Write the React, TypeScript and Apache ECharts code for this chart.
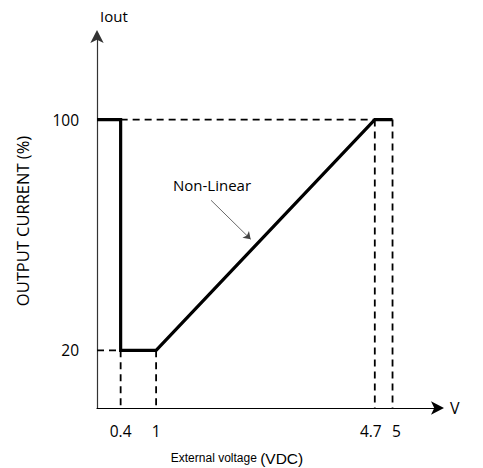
import React, { useEffect, useRef } from "react";
import * as echarts from "echarts";

// Main output-current curve (external voltage V, output current %)
const curveX = [0, 0.4, 0.4, 1, 4.7, 5];
const curveY = [100, 100, 20, 20, 100, 100];

// Tick labels
const xTicks = [0.4, 1, 4.7, 5];
const yTicks = [20, 100];

// Axis extents (arrow tips)
const xMax = 5.82;
const yMax = 130;

// Annotation arrow (data coords)
const noteFrom = [1.93, 72];
const noteTo = [2.6, 58.5];

const FONT = "'Open Sans', 'DejaVu Sans', sans-serif";

export default function App() {
  const ref = useRef<HTMLDivElement>(null);

  useEffect(() => {
    document.body.style.margin = "0";
    if (!ref.current) return;
    const chart = echarts.init(ref.current, undefined, { renderer: "svg" });

    const curve = curveX.map((x, i) => [x, curveY[i]]);
    const lowY = yTicks[0];
    const highY = yTicks[1];
    const guides: number[][][] = [
      [[xTicks[0], highY], [xTicks[2], highY]],
      [[0, lowY], [xTicks[0], lowY]],
      ...xTicks.map((x) => {
        const idx = curveX.lastIndexOf(x);
        const y = x === xTicks[0] ? lowY : curveY[idx];
        return [[x, y], [x, 0]];
      }),
    ];

    const guideSeries = guides.map((seg) => ({
      type: "line",
      data: seg,
      symbol: "none",
      silent: true,
      z: 1,
      lineStyle: { color: "#000", width: 1.8, type: [7, 5] },
    }));

    chart.setOption({
      animation: false,
      grid: { left: 97, right: 42, top: 33, bottom: 60, containLabel: false },
      xAxis: {
        type: "value",
        min: 0,
        max: xMax,
        name: "V",
        nameLocation: "end",
        nameGap: 9,
        nameTextStyle: { fontFamily: FONT, fontSize: 16, color: "#000", verticalAlign: "middle" },
        splitLine: { show: false },
        axisTick: { show: false },
        axisLine: {
          lineStyle: { color: "#000", width: 1.2 },
          symbol: ["none", "arrow"],
          symbolSize: [10, 13],
          symbolOffset: [0, 3],
        },
        axisLabel: {
          customValues: xTicks,
          formatter: (v: number) => {
            if (v === xTicks[2]) return "{l|" + v + "}";
            if (v === xTicks[3]) return "{r|" + v + "}";
            return String(v);
          },
          rich: {
            l: { fontFamily: FONT, fontSize: 15.5, color: "#000", padding: [0, 8, 0, 0] },
            r: { fontFamily: FONT, fontSize: 15.5, color: "#000", padding: [0, 0, 0, 8] },
          },
          fontFamily: FONT,
          fontSize: 15.5,
          color: "#000",
          margin: 15,
        },
      },
      yAxis: {
        type: "value",
        min: 0,
        max: yMax,
        name: "Iout",
        nameLocation: "end",
        nameGap: 10,
        nameTextStyle: { fontFamily: FONT, fontSize: 15, color: "#000", align: "left", padding: [0, 0, 0, 3] },
        splitLine: { show: false },
        axisTick: { show: false },
        axisLine: {
          lineStyle: { color: "#333", width: 1.2 },
          symbol: ["none", "arrow"],
          symbolSize: [10, 13],
          symbolOffset: [0, 3],
        },
        axisLabel: {
          customValues: yTicks,
          fontFamily: FONT,
          fontSize: 15.5,
          color: "#000",
          margin: 18,
        },
      },
      series: [
        ...guideSeries,
        {
          type: "line",
          data: curve,
          symbol: "none",
          silent: true,
          z: 3,
          lineStyle: { color: "#000", width: 3.2, join: "miter" },
          markLine: {
            silent: true,
            symbol: ["none", "arrow"],
            symbolSize: 7,
            label: { show: false },
            lineStyle: { color: "#444", width: 0.8, type: "solid" },
            data: [[{ coord: noteFrom }, { coord: noteTo }]],
          },
        },
      ],
      graphic: [
        {
          type: "text",
          x: 212,
          y: 185,
          style: {
            text: "Non-Linear",
            fontFamily: FONT,
            fontSize: 15,
            fill: "#000",
            align: "center",
            verticalAlign: "middle",
          },
        },
        {
          type: "text",
          x: 22,
          y: 221,
          rotation: Math.PI / 2,
          style: {
            text: "OUTPUT CURRENT (%)",
            fontFamily: FONT,
            fontSize: 16.5,
            fill: "#000",
            align: "center",
            verticalAlign: "middle",
          },
        },
        {
          type: "text",
          x: 237,
          y: 458,
          style: {
            text: "{a|External voltage }{b|(VDC)}",
            align: "center",
            verticalAlign: "middle",
            rich: {
              a: { fontFamily: "'Liberation Sans', Arial, sans-serif", fontSize: 12, fill: "#000", letterSpacing: -0.4 },
              b: { fontFamily: "'Liberation Sans', Arial, sans-serif", fontSize: 15.5, fill: "#000" },
            },
          },
        },
      ],
    });

    return () => chart.dispose();
  }, []);

  return <div ref={ref} style={{ width: 483, height: 468 }} />;
}
